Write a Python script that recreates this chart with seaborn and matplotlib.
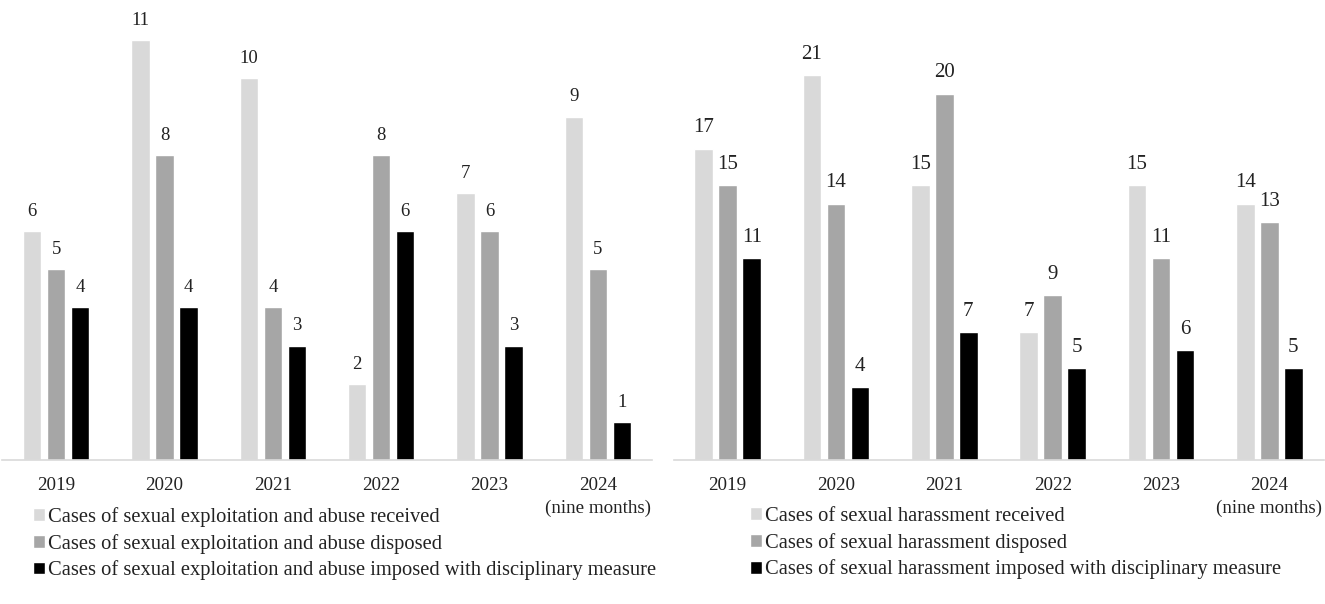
import matplotlib
matplotlib.use("Agg")
import matplotlib.pyplot as plt
import seaborn as sns
import pandas as pd

years = ["2019", "2020", "2021", "2022", "2023", "2024\n(nine months)"]

sea_series = [
    "Cases of sexual exploitation and abuse received",
    "Cases of sexual exploitation and abuse disposed",
    "Cases of sexual exploitation and abuse imposed with disciplinary measure",
]
sea_received = [6, 11, 10, 2, 7, 9]
sea_disposed = [5, 8, 4, 8, 6, 5]
sea_disciplined = [4, 4, 3, 6, 3, 1]

sh_series = [
    "Cases of sexual harassment received",
    "Cases of sexual harassment disposed",
    "Cases of sexual harassment imposed with disciplinary measure",
]
sh_received = [17, 21, 15, 7, 15, 14]
sh_disposed = [15, 14, 20, 9, 11, 13]
sh_disciplined = [11, 4, 7, 5, 6, 5]

colors = ["#d9d9d9", "#a6a6a6", "#000000"]

sns.set_theme(style="white")
plt.rcParams["font.family"] = ["Liberation Serif", "DejaVu Serif"]


def long_df(series, vals):
    rows = []
    for s, v in zip(series, vals):
        for y, val in zip(years, v):
            rows.append({"year": y, "series": s, "value": val})
    return pd.DataFrame(rows)


df_sea = long_df(sea_series, [sea_received, sea_disposed, sea_disciplined])
df_sh = long_df(sh_series, [sh_received, sh_disposed, sh_disciplined])

fig = plt.figure(figsize=(13.25, 6.04), dpi=100)
bottom = (604 - 460) / 604
height = 458 / 604
ax1 = fig.add_axes([2 / 1325, bottom, 650 / 1325, height])
ax2 = fig.add_axes([673.5 / 1325, bottom, 650 / 1325, height])


def draw(ax, df, series, ymax, lab_size, pad, legend_x):
    sns.barplot(data=df, x="year", y="value", hue="series", hue_order=series,
                palette=colors, width=0.665, gap=0.23, ax=ax, legend=True,
                saturation=1, errorbar=None)
    ax.set_ylim(0, ymax)
    ax.set_xlim(-0.5, len(years) - 0.5)
    for c in ax.containers:
        ax.bar_label(c, fmt="%d", padding=pad, fontsize=lab_size, color="#222222")
    ax.set_xlabel("")
    ax.set_ylabel("")
    ax.set_yticks([])
    ax.tick_params(axis="x", length=0, labelsize=13.7, pad=12, colors="#222222")
    for lbl in ax.get_xticklabels():
        lbl.set_linespacing(1.45)
    for s in ["top", "right", "left"]:
        ax.spines[s].set_visible(False)
    ax.spines["bottom"].set_color("#d9d9d9")
    ax.spines["bottom"].set_linewidth(1.2)
    handles, labels = ax.get_legend_handles_labels()
    ax.get_legend().remove()
    fig.legend(handles, labels, loc="upper left",
               bbox_to_anchor=(legend_x / 1325, 1 - 507 / 604),
               frameon=False, fontsize=14.8, handlelength=0.58, handleheight=0.58,
               handletextpad=0.15, labelspacing=0.33, borderaxespad=0,
               borderpad=0, labelcolor="#222222")


draw(ax1, df_sea, sea_series, 12, 13.5, 8, 33)
draw(ax2, df_sh, sh_series, 25, 15, 8, 750)

fig.savefig("out.png", dpi=100)
